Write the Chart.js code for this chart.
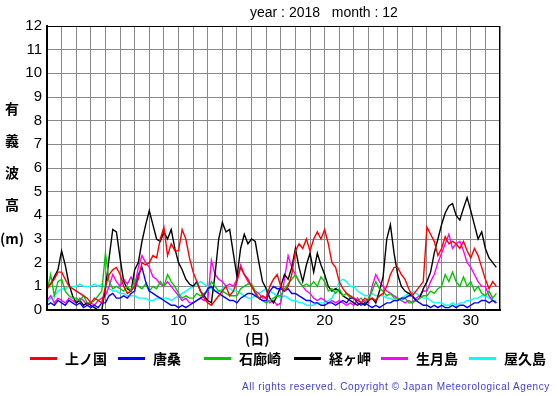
<!DOCTYPE html>
<html>
<head>
<meta charset="utf-8">
<script src="https://cdn.jsdelivr.net/npm/chart.js@4.4.0/dist/chart.umd.min.js"></script>
<style>
  body { margin: 0; background: #fff; }
  #wrap { position: relative; width: 555px; height: 395px; font-family: "Liberation Sans", Arial, sans-serif; }
  #wrap canvas { position: absolute; left: 0; top: 0; }
  .t { position: absolute; white-space: nowrap; color: #000; }
  .jp { font-family: "Noto Sans CJK JP", sans-serif; font-weight: bold; font-size: 14px; }
  .ln { position: absolute; height: 3px; width: 27px; }
</style>
</head>
<body>
<div id="wrap">
  <canvas id="waveChart" width="555" height="395"></canvas>
  <div class="t" style="left:250px; top:4px; font-size:14px;">year : 2018&nbsp;&nbsp;&nbsp;month : 12</div>
  <div class="t jp" style="left:5px; top:98px;">有</div>
  <div class="t jp" style="left:5px; top:130px;">義</div>
  <div class="t jp" style="left:5px; top:162px;">波</div>
  <div class="t jp" style="left:5px; top:194px;">高</div>
  <div class="t jp" style="left:0px; top:228px;">(m)</div>
  <div class="t jp" style="left:245px; top:328px;">(日)</div>
  <div id="legend"></div>
  <div class="t" style="left:242px; top:381px; font-size:10px; letter-spacing:0.6px; color:#4040d8;">All rights reserved. Copyright &copy; Japan Meteorological Agency</div>
</div>
<script>
// 6-hourly significant wave height (m), 2018-12, four values per day
const stations = ['上ノ国', '唐桑', '石廊崎', '経ヶ岬', '生月島', '屋久島'];
const colors = ['#ff0000', '#0000ff', '#00c800', '#000000', '#ff00ff', '#00ffff'];

const kaminokuni = [
  0.9, 1.1, 1.3, 1.6,  1.6, 1.3, 1.0, 0.9,  0.8, 0.7, 0.6, 0.5,  0.3, 0.5, 0.4, 0.3,
  1.0, 1.5, 1.7, 1.8,  1.5, 1.0, 0.7, 0.8,  1.0, 1.3, 2.0, 1.9,  2.0, 2.3, 2.2, 3.0,
  3.5, 2.3, 2.8, 2.5,  2.5, 3.4, 3.0, 2.2,  1.6, 1.2, 0.8, 0.5,  0.3, 0.2, 0.4, 0.6,
  0.8, 1.0, 0.6, 0.8,  1.2, 1.8, 1.5, 1.3,  1.0, 0.7, 0.5, 0.6,  0.5, 1.0, 1.3, 1.5,
  1.0, 0.8, 1.0, 1.5,  2.5, 2.8, 2.6, 3.0,  2.5, 3.0, 3.3, 3.0,  3.4, 2.8, 2.0, 1.8,
  1.2, 0.9, 0.7, 0.6,  0.5, 0.4, 0.3, 0.5,  0.4, 0.5, 0.4, 0.6,  0.7, 1.0, 1.5, 1.8,
  1.8, 1.5, 1.3, 0.9,  0.6, 0.8, 1.0, 1.2,  3.5, 3.2, 2.9, 2.3,  2.6, 3.1, 2.8, 2.9,
  2.8, 2.6, 2.9, 2.5,  2.2, 2.6, 2.3, 1.8,  1.3, 0.9, 1.2, 1.0
];
const karakuwa = [
  0.2, 0.3, 0.2, 0.4,  0.3, 0.2, 0.4, 0.3,  0.2, 0.3, 0.1, 0.2,  0.1, 0.2, 0.1, 0.3,
  0.3, 0.6, 0.7, 0.5,  0.5, 0.6, 0.5, 0.7,  0.8, 1.5, 1.8, 1.2,  0.8, 0.7, 0.6, 0.5,
  0.4, 0.3, 0.2, 0.2,  0.1, 0.2, 0.1, 0.2,  0.3, 0.4, 0.5, 0.6,  0.9, 1.0, 0.8, 0.7,
  0.6, 0.5, 0.4, 0.4,  0.3, 0.5, 0.6, 0.7,  0.7, 0.6, 0.5, 0.4,  0.4, 0.8, 1.0, 0.9,
  0.9, 0.8, 0.9, 0.7,  0.7, 0.6, 0.5, 0.4,  0.4, 0.3, 0.3, 0.2,  0.2, 0.3, 0.3, 0.2,
  0.3, 0.4, 0.3, 0.5,  0.5, 0.3, 0.2, 0.3,  0.2, 0.1, 0.2, 0.1,  0.2, 0.3, 0.3, 0.4,
  0.4, 0.5, 0.5, 0.6,  0.6, 0.4, 0.3, 0.2,  0.2, 0.1, 0.2, 0.1,  0.2, 0.1, 0.1, 0.2,
  0.1, 0.2, 0.2, 0.1,  0.2, 0.3, 0.3, 0.4,  0.4, 0.3, 0.4, 0.3
];
const irozaki = [
  0.8, 1.5, 0.6, 1.2,  1.3, 0.8, 0.6, 0.5,  0.5, 0.4, 0.6, 0.3,  0.3, 0.4, 0.6, 0.8,
  2.4, 1.2, 0.9, 1.0,  0.9, 0.8, 1.0, 0.8,  1.3, 1.0, 0.9, 1.1,  0.8, 1.0, 0.9, 1.2,
  1.0, 1.5, 1.2, 1.0,  0.7, 0.5, 0.6, 0.5,  0.5, 0.7, 0.6, 0.7,  0.8, 1.2, 1.0, 0.8,
  0.8, 0.7, 0.6, 0.6,  0.6, 0.9, 1.0, 1.1,  1.1, 0.8, 0.5, 0.4,  0.3, 0.4, 0.5, 0.6,
  0.6, 0.9, 1.1, 1.3,  1.5, 1.2, 1.0, 1.1,  1.0, 1.2, 1.0, 1.4,  1.2, 0.8, 0.9, 0.7,
  0.9, 0.6, 0.7, 0.5,  0.5, 0.4, 0.5, 0.3,  0.5, 0.8, 1.2, 0.9,  0.8, 0.6, 0.7, 0.5,
  0.5, 0.4, 0.5, 0.3,  0.3, 0.4, 0.5, 0.6,  0.6, 0.8, 0.7, 0.9,  1.0, 1.5, 1.2, 1.6,
  1.2, 1.0, 1.4, 1.0,  1.2, 0.8, 1.0, 0.7,  0.6, 0.8, 0.5, 0.7
];
const kyogamisaki = [
  1.0, 1.1, 1.4, 1.7,  2.5, 1.9, 1.1, 0.6,  0.3, 0.4, 0.2, 0.3,  0.2, 0.1, 0.0, 0.0,
  0.9, 2.2, 3.4, 3.3,  2.2, 1.2, 0.9, 0.8,  1.7, 2.0, 2.9, 3.6,  4.2, 3.6, 3.0, 2.9,
  3.3, 3.0, 3.4, 2.6,  2.0, 1.7, 1.3, 1.1,  1.0, 1.2, 0.8, 0.6,  0.4, 0.3, 1.5, 3.0,
  3.7, 3.3, 3.4, 2.4,  1.4, 2.6, 3.2, 2.8,  3.0, 2.9, 2.0, 1.2,  0.9, 0.5, 0.3, 0.6,
  1.0, 1.5, 1.3, 1.8,  2.6, 1.8, 1.2, 1.9,  2.4, 1.6, 2.4, 1.9,  1.5, 1.0, 0.8, 0.9,
  0.8, 0.6, 0.5, 0.4,  0.3, 0.2, 0.3, 0.2,  0.4, 0.5, 0.3, 0.8,  1.4, 3.0, 3.6, 2.4,
  1.5, 1.0, 0.8, 0.7,  0.6, 0.4, 0.5, 0.9,  1.2, 1.6, 2.4, 3.0,  3.6, 4.1, 4.4, 4.5,
  4.0, 3.8, 4.3, 4.75, 4.2, 3.6, 3.0, 3.3,  2.6, 2.2, 2.0, 1.8
];
const ikitsukishima = [
  0.4, 0.6, 0.3, 0.5,  0.4, 0.3, 0.5, 0.4,  0.3, 0.5, 0.4, 0.2,  0.3, 0.2, 0.4, 0.5,
  0.6, 1.0, 1.5, 1.2,  1.0, 1.3, 1.1, 1.4,  1.0, 1.8, 2.3, 2.0,  1.8, 1.4, 1.3, 1.1,
  1.0, 1.2, 1.0, 0.8,  0.6, 0.4, 0.5, 0.3,  0.3, 0.4, 0.5, 0.4,  0.4, 2.1, 1.5, 1.3,
  1.2, 1.0, 1.1, 1.0,  1.3, 1.9, 1.5, 1.2,  1.0, 0.8, 0.7, 0.5,  0.5, 0.3, 0.4, 0.2,
  0.3, 1.3, 2.3, 1.8,  1.5, 1.2, 1.0, 0.8,  0.7, 0.5, 0.4, 0.5,  0.4, 0.3, 0.4, 0.3,
  0.4, 0.3, 0.2, 0.3,  0.2, 0.5, 0.3, 0.4,  0.3, 1.0, 1.5, 1.2,  1.0, 0.8, 0.7, 0.6,
  0.5, 0.4, 0.3, 0.4,  0.3, 0.5, 0.6, 0.8,  0.8, 1.2, 1.5, 2.0,  2.4, 2.8, 3.2, 2.6,
  2.8, 2.9, 2.5, 2.0,  1.8, 1.5, 1.2, 1.0,  1.0, 0.6, 0.4, 0.3
];
const yakushima = [
  0.3, 0.5, 0.6, 0.8,  0.9, 0.9, 1.0, 1.0,  1.0, 1.1, 1.0, 1.0,  1.0, 1.1, 1.0, 1.1,
  1.0, 0.9, 0.8, 0.8,  0.7, 0.7, 0.6, 0.6,  0.6, 0.5, 0.5, 0.5,  0.4, 0.4, 0.5, 0.5,
  0.5, 0.5, 0.4, 0.5,  0.6, 0.7, 0.8, 0.9,  1.0, 1.1, 1.2, 1.1,  1.0, 0.9, 0.8, 0.8,
  0.9, 1.0, 0.9, 0.8,  0.8, 0.7, 0.6, 0.5,  0.5, 0.6, 0.7, 0.8,  0.9, 0.8, 0.7, 0.6,
  0.5, 0.6, 0.5, 0.4,  0.4, 0.3, 0.3, 0.2,  0.2, 0.2, 0.3, 0.3,  0.3, 0.4, 0.5, 0.8,
  1.2, 1.3, 1.2, 1.0,  1.0, 0.8, 0.7, 0.6,  0.6, 0.7, 0.6, 0.6,  0.6, 0.5, 0.5, 0.4,
  0.4, 0.5, 0.6, 0.7,  0.8, 0.7, 0.6, 0.5,  0.5, 0.4, 0.3, 0.3,  0.3, 0.2, 0.2, 0.3,
  0.2, 0.3, 0.3, 0.4,  0.4, 0.5, 0.5, 0.6,  0.6, 0.5, 0.4, 0.4
];
const xTickLabels = [5, 10, 15, 20, 25, 30];

const series = [kaminokuni, karakuwa, irozaki, kyogamisaki, ikitsukishima, yakushima];

// legend drawn as html so it sits where the original puts it
const legendPos = [30, 118, 204, 294, 381, 469];
const legend = document.getElementById('legend');
stations.forEach((name, i) => {
  const line = document.createElement('div');
  line.className = 'ln';
  line.style.left = legendPos[i] + 'px';
  line.style.top = '357px';
  line.style.background = colors[i];
  legend.appendChild(line);
  const txt = document.createElement('div');
  txt.className = 't jp';
  txt.style.left = (legendPos[i] + 35) + 'px';
  txt.style.top = '348px';
  txt.textContent = name;
  legend.appendChild(txt);
});

// black frame round the plot
const framePlugin = {
  id: 'frame',
  afterDraw(chart) {
    const { ctx, chartArea: a } = chart;
    ctx.save();
    ctx.strokeStyle = '#000';
    ctx.lineWidth = 1;
    ctx.strokeRect(a.left + 0.5, a.top + 0.5, a.right - a.left - 1, a.bottom - a.top - 1);
    ctx.lineWidth = 2;
    ctx.beginPath();
    ctx.moveTo(a.left, a.top);
    ctx.lineTo(a.left, a.bottom);
    ctx.lineTo(a.right, a.bottom);
    ctx.stroke();
    ctx.restore();
  }
};

const ctx = document.getElementById('waveChart').getContext('2d');
new Chart(ctx, {
  type: 'line',
  data: {
    datasets: series.map((vals, i) => ({
      label: stations[i],
      data: vals.map((v, k) => ({ x: 1 + k / 4, y: v })),
      borderColor: colors[i],
      borderWidth: 1.4,
      pointRadius: 0,
      tension: 0,
      fill: false
    }))
  },
  options: {
    responsive: false,
    animation: false,
    events: [],
    layout: { padding: { left: 0, top: 26, right: 55, bottom: 0 } },
    plugins: { legend: { display: false }, tooltip: { enabled: false } },
    scales: {
      x: {
        type: 'linear',
        min: 1,
        max: 32,
        afterFit(scale) { scale.height = 85; },
        afterBuildTicks(scale) {
          scale.ticks = [];
          for (let d = 1; d <= 32; d++) scale.ticks.push({ value: d });
        },
        ticks: {
          autoSkip: false,
          maxRotation: 0,
          padding: 2,
          color: '#000',
          font: { family: 'Liberation Sans', size: 15 },
          callback: v => xTickLabels.includes(v) ? String(v) : ''
        },
        grid: { color: '#888', drawTicks: false },
        border: { color: '#000', width: 2 }
      },
      y: {
        min: 0,
        max: 12,
        afterFit(scale) { scale.width = 47; },
        ticks: {
          stepSize: 1,
          padding: 5,
          color: '#000',
          font: { family: 'Liberation Sans', size: 15 }
        },
        grid: { color: '#888', drawTicks: false },
        border: { color: '#000', width: 2 }
      }
    }
  },
  plugins: [framePlugin]
});
</script>
</body>
</html>
